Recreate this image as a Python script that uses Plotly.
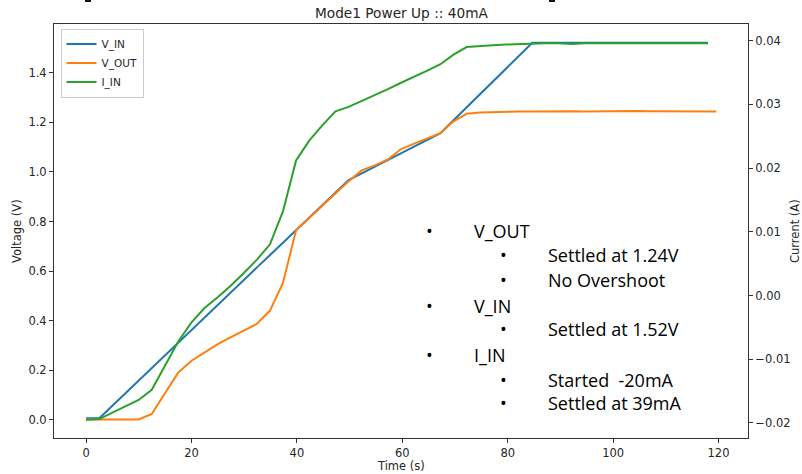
import plotly.graph_objects as go

# Sampled time base (s)
time_s = [0, 2.49, 4.98, 7.47, 9.96, 12.45, 14.94, 17.43, 19.92, 22.41, 24.90,
          27.39, 29.88, 32.37, 34.86, 37.35, 39.84, 42.33, 44.82, 47.31, 49.80,
          52.29, 54.78, 57.27, 59.76, 62.25, 64.74, 67.23, 69.72, 72.21, 74.70,
          77.19, 79.68, 82.17, 84.66, 87.15, 89.64, 92.13, 94.62, 97.11, 99.60,
          102.09, 104.58, 107.07, 109.56, 112.05, 114.54, 118.0, 119.6]

# Input voltage (V)
v_in = [0.007, 0.007, 0.057, 0.108, 0.159, 0.209, 0.260, 0.310, 0.361, 0.411,
        0.462, 0.512, 0.563, 0.614, 0.664, 0.715, 0.765, 0.816, 0.866, 0.917,
        0.967, 0.994, 1.021, 1.048, 1.075, 1.102, 1.129, 1.156, 1.208, 1.260,
        1.312, 1.364, 1.416, 1.468, 1.520, 1.520, 1.520, 1.520, 1.520, 1.520,
        1.520, 1.520, 1.520, 1.520, 1.520, 1.520, 1.520, 1.520, None]

# Output voltage (V)
v_out = [0.002, 0.002, 0.002, 0.002, 0.002, 0.024, 0.107, 0.190, 0.238, 0.273,
         0.305, 0.333, 0.360, 0.387, 0.440, 0.552, 0.765, 0.814, 0.864, 0.914,
         0.962, 1.006, 1.026, 1.050, 1.092, 1.114, 1.134, 1.156, 1.204, 1.234,
         1.239, 1.241, 1.242, 1.243, 1.243, 1.244, 1.244, 1.244, 1.243, 1.244,
         1.244, 1.244, 1.245, 1.244, 1.244, 1.244, 1.244, 1.243, 1.243]

# Input current (A)
i_in = [-0.0195, -0.0194, -0.0184, -0.0174, -0.0164, -0.0148, -0.0110, -0.0073,
        -0.0043, -0.0020, -0.0003, 0.0015, 0.0035, 0.0056, 0.0080, 0.0132,
        0.0212, 0.0243, 0.0267, 0.0289, 0.0296, 0.0305, 0.0314, 0.0324, 0.0334,
        0.0343, 0.0353, 0.0363, 0.0378, 0.0390, 0.0392, 0.0393, 0.0394, 0.0395,
        0.0396, 0.0396, 0.0396, 0.0395, 0.0396, 0.0396, 0.0395, 0.0396, 0.0396,
        0.0395, 0.0396, 0.0396, 0.0396, 0.0396, None]

x_ticks = [0, 20, 40, 60, 80, 100, 120]
v_ticks = [0.0, 0.2, 0.4, 0.6, 0.8, 1.0, 1.2, 1.4]
i_ticks = [-0.02, -0.01, 0.00, 0.01, 0.02, 0.03, 0.04]

notes = [
    (0, "V_OUT"),
    (1, "Settled at 1.24V"),
    (1, "No Overshoot"),
    (0, "V_IN"),
    (1, "Settled at 1.52V"),
    (0, "I_IN"),
    (1, "Started  -20mA"),
    (1, "Settled at 39mA"),
]
note_rows_px = [231, 255, 280, 306, 329, 355, 380, 403]

W, H = 802, 474
ML, MR, MT, MB = 54, 54, 24, 36
PW, PH = W - ML - MR, H - MT - MB


def px(x):
    return (x - ML) / PW


def py(y):
    return (H - MB - y) / PH


TICK_FONT = dict(family="DejaVu Sans", size=11.5, color="#262626")
NOTE_FONT = dict(family="Open Sans", size=18, color="black")
AX = "#333333"

fig = go.Figure()
fig.add_trace(go.Scatter(x=time_s, y=v_in, name="V_IN", mode="lines",
                         line=dict(color="#1f77b4", width=2)))
fig.add_trace(go.Scatter(x=time_s, y=v_out, name="V_OUT", mode="lines",
                         line=dict(color="#ff7f0e", width=2)))
fig.add_trace(go.Scatter(x=time_s, y=i_in, name="I_IN", mode="lines",
                         line=dict(color="#2ca02c", width=2), yaxis="y2"))

annotations = [
    dict(text="Mode1 Power Up :: 40mA", x=px(401), y=py(13), xref="paper",
         yref="paper", showarrow=False, xanchor="center", yanchor="middle",
         font=dict(family="DejaVu Sans", size=13.7, color="#262626")),
    dict(text="Time (s)", x=px(401), y=py(466), xref="paper", yref="paper",
         showarrow=False, xanchor="center", yanchor="middle", font=TICK_FONT),
    dict(text="Voltage (V)", x=px(17), y=py(231), xref="paper", yref="paper",
         showarrow=False, xanchor="center", yanchor="middle", textangle=-90,
         font=TICK_FONT),
    dict(text="Current (A)", x=px(795), y=py(231), xref="paper", yref="paper",
         showarrow=False, xanchor="center", yanchor="middle", textangle=-90,
         font=TICK_FONT),
]

for (level, label), row in zip(notes, note_rows_px):
    bx = 429 if level == 0 else 503
    tx = 472 if level == 0 else 546
    annotations.append(dict(text="•", x=px(bx), y=py(row), xref="paper",
                            yref="paper", showarrow=False, xanchor="center",
                            yanchor="middle", font=NOTE_FONT))
    annotations.append(dict(text=label, x=px(tx), y=py(row), xref="paper",
                            yref="paper", showarrow=False, xanchor="left",
                            yanchor="middle", font=NOTE_FONT))

# small dark marks along the top edge
shapes = [
    dict(type="rect", xref="paper", yref="paper", x0=px(85), x1=px(91),
         y0=py(2), y1=py(0), fillcolor="#111", line=dict(width=0)),
    dict(type="rect", xref="paper", yref="paper", x0=px(549), x1=px(555),
         y0=py(2), y1=py(0), fillcolor="#111", line=dict(width=0)),
]

fig.update_layout(
    width=W, height=H,
    margin=dict(l=ML, r=MR, t=MT, b=MB, pad=0),
    paper_bgcolor="white", plot_bgcolor="white",
    showlegend=True,
    legend=dict(x=px(60.5), y=py(28.5), xanchor="left", yanchor="top",
                bgcolor="rgba(255,255,255,0.8)", bordercolor="#cccccc",
                borderwidth=1, itemwidth=30,
                font=dict(family="DejaVu Sans", size=10.5, color="#262626"),
                tracegroupgap=0),
    xaxis=dict(range=[-6.1, 125.6], tickvals=x_ticks, ticks="outside",
               ticklen=4, tickcolor=AX, showline=True, linecolor=AX,
               linewidth=1, mirror=True, showgrid=False, zeroline=False,
               tickfont=TICK_FONT),
    yaxis=dict(range=[-0.0726, 1.596], tickvals=v_ticks, tickformat=".1f",
               ticks="outside", ticklen=4, tickcolor=AX, showline=True,
               linecolor=AX, linewidth=1, showgrid=False, zeroline=False,
               tickfont=TICK_FONT),
    yaxis2=dict(range=[-0.02237, 0.04262], tickvals=i_ticks, tickformat=".2f",
                overlaying="y", side="right", ticks="outside", ticklen=4,
                tickcolor=AX, showline=True, linecolor=AX, linewidth=1,
                showgrid=False, zeroline=False, tickfont=TICK_FONT),
    annotations=annotations,
    shapes=shapes,
)

fig.write_html("out.html")
